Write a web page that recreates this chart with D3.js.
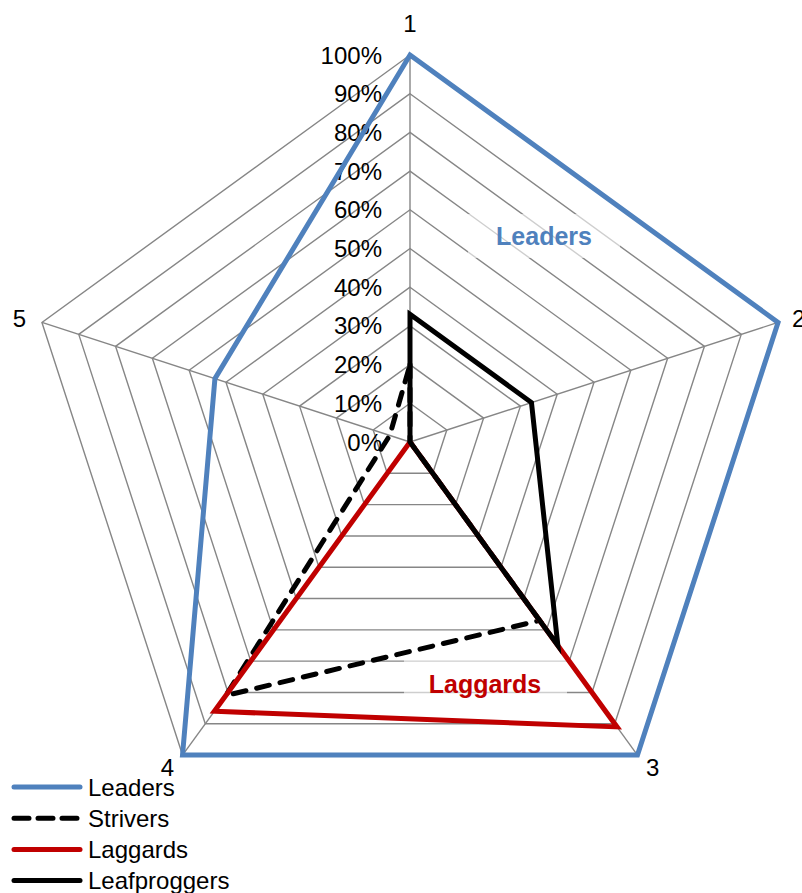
<!DOCTYPE html>
<html>
<head>
<meta charset="utf-8">
<script src="https://cdn.jsdelivr.net/npm/d3@7"></script>
<style>
  html, body { margin: 0; padding: 0; background: #fff; }
  svg { display: block; font-family: "Liberation Sans", Arial, sans-serif; }
</style>
</head>
<body>
<svg id="chart" width="802" height="893"></svg>
<script>
// Radar axes and series values (share of the maximum, 0..1)
const categories = ["1", "2", "3", "4", "5"];
const tickValues = [0, 0.1, 0.2, 0.3, 0.4, 0.5, 0.6, 0.7, 0.8, 0.9, 1.0];
const leaders      = [1.00, 1.00, 1.00, 1.00, 0.53];
const strivers     = [0.20, 0.00, 0.57, 0.81, 0.055];
const laggards     = [0.00, 0.00, 0.91, 0.86, 0.00];
const leafproggers = [0.33, 0.33, 0.65, 0.00, 0.00];
const seriesNames  = ["Leaders", "Strivers", "Laggards", "Leafproggers"];

const series = [
  { name: seriesNames[0], values: leaders,      color: "#4F81BD", dash: null },
  { name: seriesNames[1], values: strivers,     color: "#000000", dash: "13,11" },
  { name: seriesNames[2], values: laggards,     color: "#C00000", dash: null },
  { name: seriesNames[3], values: leafproggers, color: "#000000", dash: null }
];

const svg = d3.select("#chart");
const cx = 410, cy = 442, R = 387;

const r = d3.scaleLinear().domain([0, 1]).range([0, R]);
const angle = d3.scalePoint().domain(categories).range([0, 2 * Math.PI * 4 / 5]);
const pt = (cat, v) => {
  const a = angle(cat);
  return [cx + r(v) * Math.sin(a), cy - r(v) * Math.cos(a)];
};

const grid = svg.append("g");
// concentric pentagons
tickValues.filter(t => t > 0).forEach(t => {
  grid.append("polygon")
    .attr("points", categories.map(c => pt(c, t).join(",")).join(" "))
    .attr("fill", "none")
    .attr("stroke", "#868686")
    .attr("stroke-width", 1.4);
});
// spokes
categories.forEach(c => {
  const [x, y] = pt(c, 1);
  grid.append("line")
    .attr("x1", cx).attr("y1", cy).attr("x2", x).attr("y2", y)
    .attr("stroke", "#868686").attr("stroke-width", 1.4);
});

// white panels under the in-plot labels
svg.append("rect").attr("x", 468).attr("y", 214).attr("width", 152).attr("height", 44)
  .attr("fill", "#fff").attr("opacity", 0.6);
svg.append("rect").attr("x", 404).attr("y", 658).attr("width", 163).attr("height", 46)
  .attr("fill", "#fff").attr("opacity", 0.6);

// tick labels along axis 1
const fmt = d3.format(".0%");
svg.append("g").selectAll("text").data(tickValues).join("text")
  .attr("x", cx - 28)
  .attr("y", d => pt(categories[0], d)[1] + 8.5)
  .attr("text-anchor", "end")
  .attr("font-size", 24)
  .attr("fill", "#000")
  .text(d => fmt(d));

// series polygons
const line = d3.line().curve(d3.curveLinearClosed);
svg.append("g").selectAll("path").data(series).join("path")
  .attr("d", s => line(s.values.map((v, i) => pt(categories[i], v))))
  .attr("fill", "none")
  .attr("stroke", s => s.color)
  .attr("stroke-width", 5)
  .attr("stroke-linejoin", "miter")
  .attr("stroke-linecap", s => s.dash ? "round" : "butt")
  .attr("stroke-dasharray", s => s.dash);

// axis (category) labels
const catPos = [
  { x: 410, y: 32, anchor: "middle" },
  { x: 792, y: 327, anchor: "start" },
  { x: 646, y: 776, anchor: "start" },
  { x: 174, y: 776, anchor: "end" },
  { x: 26, y: 327, anchor: "end" }
];
svg.append("g").selectAll("text").data(categories).join("text")
  .attr("x", (d, i) => catPos[i].x)
  .attr("y", (d, i) => catPos[i].y)
  .attr("text-anchor", (d, i) => catPos[i].anchor)
  .attr("font-size", 24)
  .text(d => d);

// in-plot series labels
svg.append("text").attr("x", 544).attr("y", 245).attr("text-anchor", "middle")
  .attr("font-size", 25).attr("font-weight", "bold").attr("fill", "#4F81BD").text(seriesNames[0]);
svg.append("text").attr("x", 485).attr("y", 693).attr("text-anchor", "middle")
  .attr("font-size", 25).attr("font-weight", "bold").attr("fill", "#C00000").text(seriesNames[2]);

// legend
const lg = svg.append("g").selectAll("g").data(series).join("g")
  .attr("transform", (d, i) => `translate(0, ${787 + i * 31.2})`);
lg.append("line")
  .attr("x1", 14).attr("x2", 80).attr("y1", 0).attr("y2", 0)
  .attr("stroke", d => d.color).attr("stroke-width", 5)
  .attr("stroke-linecap", "round")
  .attr("stroke-dasharray", d => d.dash ? "15,9" : null);
lg.append("text").attr("x", 88).attr("y", 8.5).attr("font-size", 24).text(d => d.name);
</script>
</body>
</html>
